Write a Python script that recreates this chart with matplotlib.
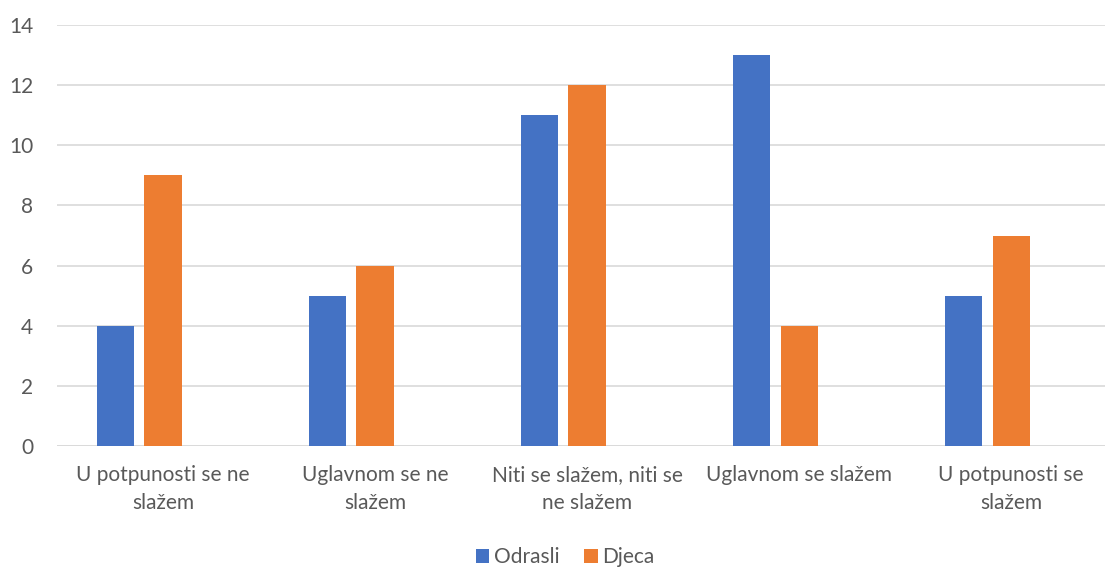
import matplotlib.pyplot as plt
import numpy as np

plt.rcParams['font.family'] = ['Lato', 'DejaVu Sans']

categories = ["U potpunosti se ne\nslažem", "Uglavnom se ne\nslažem",
              "Niti se slažem, niti se\nne slažem", "Uglavnom se slažem",
              "U potpunosti se\nslažem"]
odrasli = [4, 5, 11, 13, 5]
djeca = [9, 6, 12, 4, 7]

blue = "#4472C4"
orange = "#ED7D31"
grey = "#595959"

fig = plt.figure(figsize=(11.05, 5.7), dpi=100)
ax = fig.add_axes([57 / 1105, 124 / 570, 1048 / 1105, 421 / 570])

x = np.arange(len(categories))
w = 0.175
ax.bar(x - 0.224, odrasli, w, color=blue, label="Odrasli", zorder=3)
ax.bar(x, djeca, w, color=orange, label="Djeca", zorder=3)

ax.set_xlim(-0.5, 4.443)
ax.set_ylim(0, 14)
ax.set_yticks(range(0, 15, 2))
ax.yaxis.grid(True, color="#D9D9D9", linewidth=1.2, zorder=0)
for s in ax.spines.values():
    s.set_visible(False)
ax.axhline(0, color="#D9D9D9", linewidth=1.2, zorder=2)
ax.tick_params(axis="both", length=0, colors=grey, labelsize=15)
ax.tick_params(axis="y", pad=17)
ax.tick_params(axis="x", pad=14)
ax.set_xticks(x)
ax.set_xticklabels(categories, linespacing=1.5)

leg = ax.legend(loc="center", bbox_to_anchor=(565 / 1105, 13 / 570),
                bbox_transform=fig.transFigure, ncol=2, frameon=False,
                fontsize=15, handlelength=0.65, handleheight=0.65,
                handletextpad=0.2, columnspacing=1.2)
for t in leg.get_texts():
    t.set_color(grey)

plt.savefig("out.png")
